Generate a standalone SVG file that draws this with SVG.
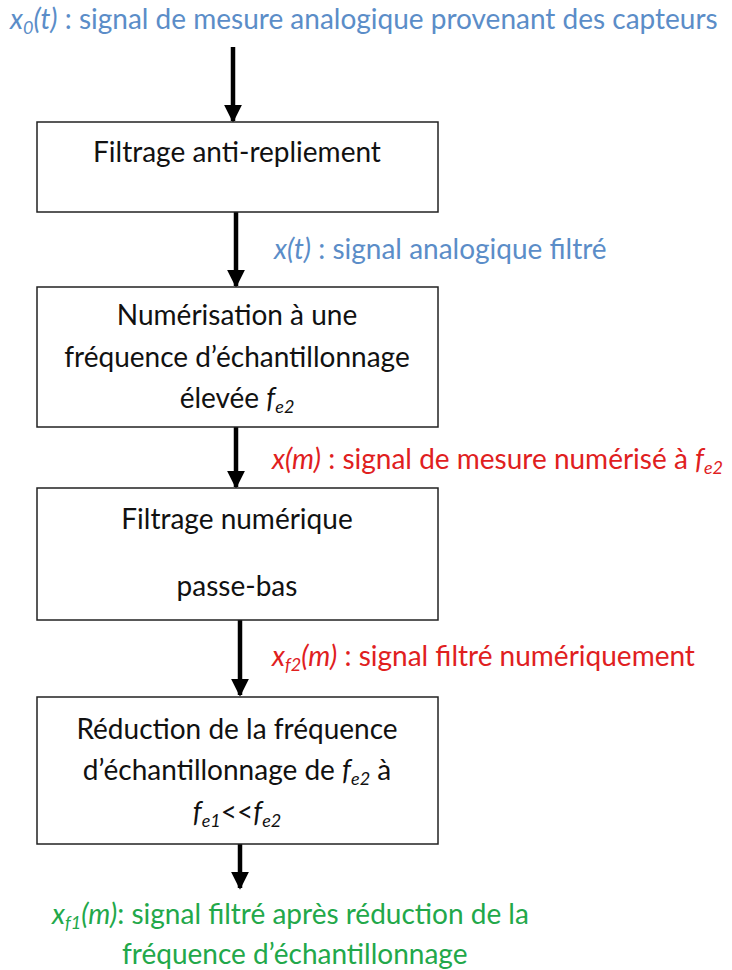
<svg xmlns="http://www.w3.org/2000/svg" width="732" height="970" viewBox="0 0 732 970">
<style>
text{font-family:Lato,"Open Sans","Liberation Sans",sans-serif;font-size:28px}
.box{fill:#fff;stroke:#222;stroke-width:1.5}
.bt{fill:#111;text-anchor:middle}
.blue{fill:#5b8dc8}
.red{fill:#e0201e}
.green{fill:#22a84a}
.i{font-style:italic}
.conn{stroke:#000;stroke-width:4.5;fill:none}
</style>
<defs>
<marker id="ah" viewBox="0 0 10 10" refX="9" refY="5" markerWidth="4" markerHeight="4" markerUnits="strokeWidth" orient="auto">
<path d="M0,0 L10,5 L0,10 z" fill="#000"/>
</marker>
</defs>
<text id="lbl0" class="blue" x="10" y="29" font-size="28.5"><tspan class="i">x</tspan><tspan class="i" font-size="18" dy="5">0</tspan><tspan class="i" dy="-5">(t)</tspan> : signal de mesure analogique provenant des capteurs</text>
<g id="connectors">
<line class="conn" x1="233" y1="47" x2="233" y2="121" marker-end="url(#ah)"/>
<line class="conn" x1="236" y1="212" x2="236" y2="286" marker-end="url(#ah)"/>
<line class="conn" x1="236" y1="427" x2="236" y2="487" marker-end="url(#ah)"/>
<line class="conn" x1="240" y1="620" x2="240" y2="695" marker-end="url(#ah)"/>
<line class="conn" x1="240" y1="844" x2="240" y2="888" marker-end="url(#ah)"/>
</g>
<g id="n1">
<rect class="box" x="37" y="122" width="401" height="90"/>
<text class="bt" x="237" y="162">Filtrage anti-repliement</text>
</g>
<g id="n2">
<rect class="box" x="37" y="287" width="401" height="140"/>
<text class="bt" x="237" y="325">Numérisation à une</text>
<text class="bt" x="237" y="367">fréquence d’échantillonnage</text>
<text class="bt" x="237" y="408">élevée <tspan class="i">f</tspan><tspan class="i" font-size="18" dy="5">e2</tspan></text>
</g>
<g id="n3">
<rect class="box" x="37" y="488" width="401" height="132"/>
<text class="bt" x="237" y="529">Filtrage numérique</text>
<text class="bt" x="237" y="596">passe-bas</text>
</g>
<g id="n4">
<rect class="box" x="37" y="697" width="401" height="147"/>
<text class="bt" x="237" y="739">Réduction de la fréquence</text>
<text class="bt" x="237" y="780">d’échantillonnage de <tspan class="i">f</tspan><tspan class="i" font-size="18" dy="5">e2</tspan><tspan dy="-5"> à</tspan></text>
<text class="bt" x="237" y="822"><tspan class="i">f</tspan><tspan class="i" font-size="18" dy="5">e1</tspan><tspan dy="-5">&lt;&lt;</tspan><tspan class="i">f</tspan><tspan class="i" font-size="18" dy="5">e2</tspan></text>
</g>
<text id="lbl1" class="blue" x="274" y="259"><tspan class="i">x(t)</tspan> : signal analogique filtré</text>
<text id="lbl2" class="red" x="272" y="469"><tspan class="i">x(m)</tspan> : signal de mesure numérisé à <tspan class="i">f</tspan><tspan class="i" font-size="18" dy="5">e2</tspan></text>
<text id="lbl3" class="red" x="272" y="666"><tspan class="i">x</tspan><tspan class="i" font-size="18" dy="5">f2</tspan><tspan class="i" dy="-5">(m)</tspan> : signal filtré numériquement</text>
<text id="lbl4" class="green" x="52" y="924"><tspan class="i">x</tspan><tspan class="i" font-size="18" dy="5">f1</tspan><tspan class="i" dy="-5">(m)</tspan>: signal filtré après réduction de la</text>
<text id="lbl5" class="green" x="122" y="964">fréquence d’échantillonnage</text>
</svg>
